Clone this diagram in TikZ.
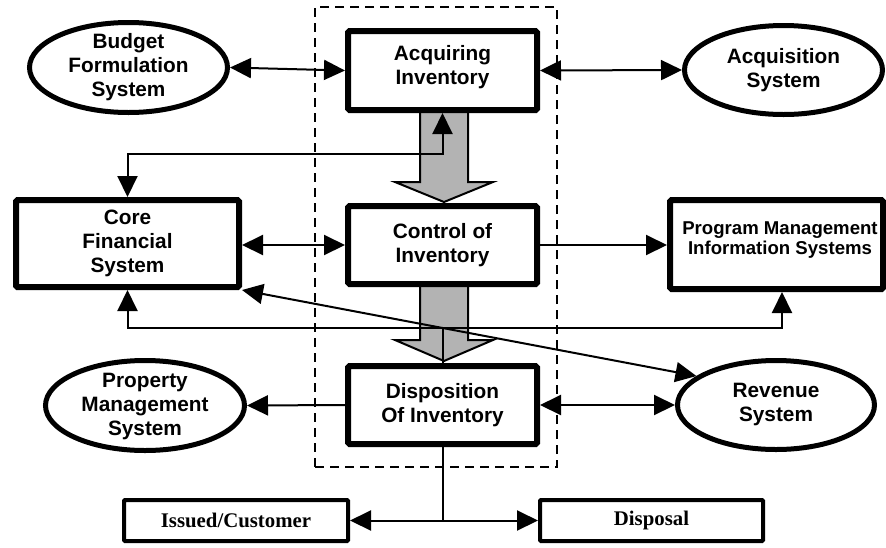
\documentclass[tikz,border=0pt]{standalone}
\usepackage{fontspec}
\setmainfont{Liberation Sans}
\newfontfamily\serifb{Liberation Serif}
\usetikzlibrary{shapes.geometric,arrows.meta}
\definecolor{arrowgray}{RGB}{179,179,179}
\begin{document}
\begin{tikzpicture}[x=1pt,y=-1pt,
  mainfont/.style={font=\bfseries\fontsize{20.8}{24}\selectfont},
  procbox/.style={draw, line width=6pt, rounded corners=1.5pt, fill=white, align=center, inner sep=0pt, mainfont},
  sysell/.style={draw, ellipse, line width=5pt, fill=white, inner sep=0pt},
  elltext/.style={align=center, inner sep=0pt, mainfont},
  outbox/.style={draw, line width=4pt, rounded corners=1pt, fill=white, inner sep=0pt, font=\serifb\bfseries\fontsize{20.8}{24}\selectfont},
  link/.style={line width=2pt},
  bigarrow/.style={draw, line width=2pt, fill=arrowgray, line join=miter},
  >={Triangle[length=21pt,width=20pt]}
]
\useasboundingbox (0,0) rectangle (886,547);

% dashed region
\node (region) [draw, line width=2.2pt, dash pattern=on 9pt off 6pt, minimum width=242pt, minimum height=460pt, inner sep=0pt] at (436,237) {};

% big grey flow arrows
\draw[bigarrow] (420,110) -- (420,182) -- (395,182) -- (444,202) -- (493,182) -- (468,182) -- (468,110) -- cycle;
\draw[bigarrow] (420,284) -- (420,340) -- (395,340) -- (444,361) -- (493,340) -- (468,340) -- (468,284) -- cycle;

% process boxes
\node (acq) [procbox, minimum width=189pt, minimum height=79pt] at (442.5,70.5) {};
\node (acqtext) [elltext] at (442.5,67) {Acquiring\\Inventory};
\node (ctl) [procbox, minimum width=189pt, minimum height=78pt] at (442.5,245) {Control of\\Inventory};
\node (dis) [procbox, minimum width=189pt, minimum height=78pt] at (442.5,405) {Disposition\\Of Inventory};
\node (core) [procbox, minimum width=223pt, minimum height=87pt] at (127.5,243.5) {Core\\Financial\\System};
\node (pmis) [procbox, minimum width=213pt, minimum height=89pt] at (776.5,244.5) {};
\node (pmistext) [align=center, inner sep=0pt, font=\bfseries\fontsize{18.6}{20.5}\selectfont] at (780,240) {Program Management\\Information Systems};

% systems (ellipses)
\node (budget) [sysell, minimum width=198pt, minimum height=90pt] at (128.5,67.5) {};
\node (budgettext) [elltext] at (128.5,67) {Budget\\Formulation\\System};
\node (acqsys) [sysell, minimum width=198pt, minimum height=89pt] at (783.5,70) {};
\node (acqsystext) [elltext] at (783.5,70.5) {Acquisition\\System};
\node (property) [sysell, minimum width=199pt, minimum height=90pt] at (145,405.5) {};
\node (propertytext) [elltext] at (145,406) {Property\\Management\\System};
\node (revenue) [sysell, minimum width=197pt, minimum height=89pt] at (776,405) {};
\node (revenuetext) [elltext] at (776,404) {Revenue\\System};

% outcome boxes
\node (issued) [outbox, minimum width=224pt, minimum height=41pt] at (236,520.5) {Issued/Customer};
\node (disposal) [outbox, minimum width=223pt, minimum height=41pt] at (651.5,520.5) {Disposal};

% connectors
\draw[link,<->] (budget.east) -- (acq.west);
\draw[link,<->] (acq.east) -- (acqsys.west);
\coordinate (j1) at (0,154);
\draw[link,<->] (acq.south) -- (acq.south |- j1) -| (core.north);
\draw[link,<->] (ctl.west -| core.east) -- (ctl.west);
\draw[link,->] (ctl.east) -- (ctl.east -| pmis.west);
\coordinate (j2) at (0,328);
\draw[link] (dis.north) -- (dis.north |- j2);
\draw[link,->] (dis.north |- j2) -| (core.south);
\draw[link,->] (dis.north |- j2) -| ([xshift=5.5pt]pmis.south);
\draw[link,<->] (core.south east) -- (revenue.160);
\draw[link,->] (dis.west) -- (property.east);
\draw[link,<->] (dis.east) -- (revenue.west);
\coordinate (j3) at (dis.south |- issued.east);
\draw[link] (dis.south) -- (j3);
\draw[link,->] (j3) -- (issued.east);
\draw[link,->] (j3) -- (disposal.west);
\end{tikzpicture}
\end{document}
